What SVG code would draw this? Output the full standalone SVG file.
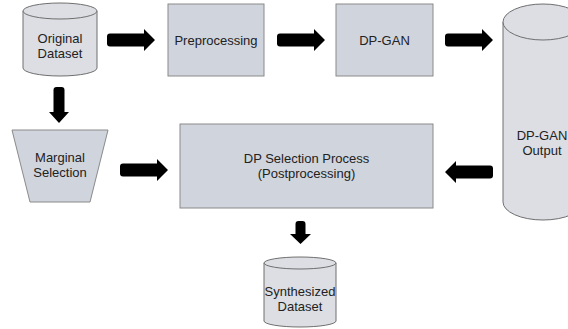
<svg xmlns="http://www.w3.org/2000/svg" width="568" height="329" viewBox="0 0 568 329">
<style>
.box{fill:#d0d4dc;stroke:#8a8a8a;stroke-width:1}
.cyl{fill:#dcdee3;stroke:#6f6f6f;stroke-width:1}
.t{font-family:"Liberation Sans",Arial,sans-serif;font-size:13px;fill:#222;text-anchor:middle}
.arr{fill:#000}
</style>
<defs>
<path id="ar" d="M3,-6.5 H37 V-11 L48,0 L37,11 V6.5 H3 A3,3 0 0 1 0,3.5 V-3.5 A3,3 0 0 1 3,-6.5 Z"/>
</defs>
<rect width="568" height="329" fill="#fff"/>
<g id="original-dataset">
<path class="cyl" d="M23,11 V68 A37,8 0 0 0 97,68 V11"/>
<ellipse class="cyl" cx="60" cy="11" rx="37" ry="8"/>
<text class="t" x="60" y="43">Original</text>
<text class="t" x="60" y="58">Dataset</text>
</g>
<g id="preprocessing">
<rect class="box" x="168" y="4" width="96" height="72"/>
<text class="t" x="216" y="45">Preprocessing</text>
</g>
<g id="dp-gan">
<rect class="box" x="336" y="4" width="97" height="72"/>
<text class="t" x="384.5" y="45">DP-GAN</text>
</g>
<g id="dp-gan-output">
<path class="cyl" d="M503,22 V202 A40,18 0 0 0 583,202 V22"/>
<ellipse class="cyl" cx="543" cy="22" rx="40" ry="18"/>
<text class="t" x="542" y="140">DP-GAN</text>
<text class="t" x="542" y="155">Output</text>
</g>
<g id="marginal-selection">
<polygon class="box" points="12,130 108,130 90,202 30,202"/>
<text class="t" x="60" y="162">Marginal</text>
<text class="t" x="60" y="177">Selection</text>
</g>
<g id="dp-selection">
<rect class="box" x="180" y="124" width="253" height="84"/>
<text class="t" x="306.5" y="163">DP Selection Process</text>
<text class="t" x="306.5" y="178">(Postprocessing)</text>
</g>
<g id="synthesized-dataset">
<path class="cyl" d="M264,263 V321 A36,6 0 0 0 336,321 V263"/>
<ellipse class="cyl" cx="300" cy="263" rx="36" ry="6"/>
<text class="t" x="300" y="296">Synthesized</text>
<text class="t" x="300" y="311">Dataset</text>
</g>
<g id="connectors" class="arr">
<use href="#ar" transform="translate(107,40)"/>
<use href="#ar" transform="translate(277,40)"/>
<use href="#ar" transform="translate(445,40)"/>
<use href="#ar" transform="translate(493,172) scale(-1,1)"/>
<use href="#ar" transform="translate(120,170)"/>
<path d="M53.5,90 A3,3 0 0 1 56.5,87 H61.5 A3,3 0 0 1 64.5,90 V112 H69 L59,123 L49,112 H53.5 Z"/>
<path d="M295.5,224 A3,3 0 0 1 298.5,221 H302.5 A3,3 0 0 1 305.5,224 V234 H311 L300.5,244 L290,234 H295.5 Z"/>
</g>
</svg>
